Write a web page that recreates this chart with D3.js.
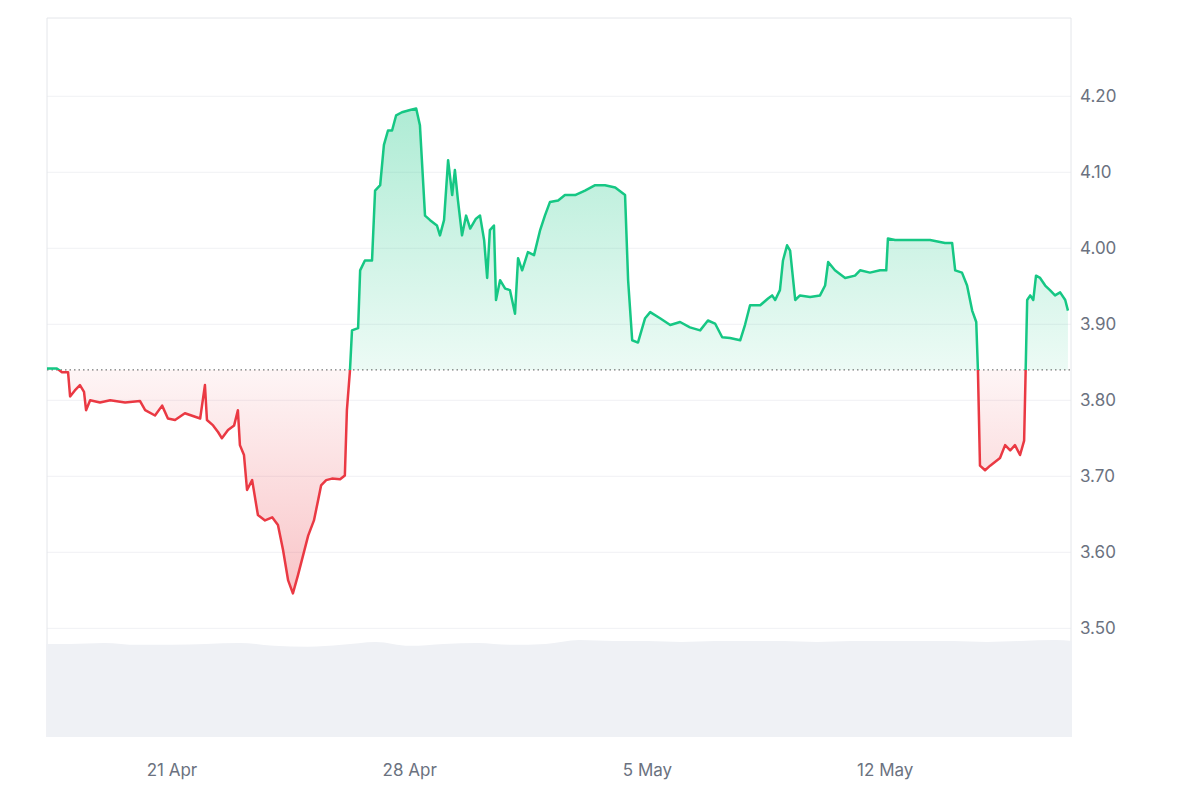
<!DOCTYPE html>
<html><head><meta charset="utf-8">
<script src="https://cdn.jsdelivr.net/npm/d3@7"></script>
<style>body{margin:0;background:#fff;font-family:Inter,"Open Sans",sans-serif}</style>
</head><body><svg id="c" width="1200" height="800"></svg>
<script>
// day offsets from 17 Apr 00:00 UTC
const days = [0.32,0.61,0.76,0.94,1.00,1.14,1.29,1.41,1.47,1.59,1.88,2.18,2.62,3.06,3.21,3.50,3.71,3.88,4.09,4.38,4.83,4.97,5.03,5.21,5.36,5.47,5.65,5.83,5.94,6.00,6.12,6.21,6.36,6.53,6.74,6.95,7.12,7.27,7.42,7.56,7.71,7.86,8.01,8.18,8.30,8.39,8.54,8.71,8.95,9.09,9.15,9.24,9.30,9.48,9.54,9.68,9.89,9.98,10.13,10.24,10.36,10.48,10.60,10.77,11.01,11.19,11.30,11.45,11.60,11.80,11.89,12.01,12.13,12.25,12.33,12.42,12.54,12.66,12.78,12.95,13.07,13.19,13.28,13.36,13.48,13.54,13.66,13.81,13.95,14.10,14.19,14.31,14.48,14.66,14.84,14.98,15.13,15.37,15.57,15.87,16.16,16.46,16.75,17.05,17.34,17.43,17.55,17.72,17.93,18.08,18.37,18.67,18.96,19.25,19.55,19.78,19.99,20.20,20.43,20.73,20.87,21.02,21.32,21.55,21.67,21.76,21.90,21.99,22.11,22.20,22.35,22.49,22.79,23.08,23.23,23.32,23.52,23.82,24.11,24.26,24.55,24.85,25.03,25.08,25.29,25.59,25.88,26.32,26.76,26.97,27.06,27.26,27.41,27.56,27.68,27.73,27.79,27.94,28.09,28.38,28.53,28.68,28.82,28.97,29.09,29.18,29.27,29.36,29.44,29.56,29.71,29.85,30.00,30.15,30.30,30.38];
const prices = [3.842,3.842,3.837,3.837,3.805,3.813,3.820,3.811,3.787,3.800,3.797,3.800,3.797,3.799,3.787,3.780,3.793,3.776,3.774,3.783,3.776,3.820,3.774,3.767,3.758,3.750,3.761,3.767,3.787,3.741,3.728,3.682,3.695,3.649,3.642,3.646,3.636,3.603,3.563,3.546,3.570,3.596,3.622,3.642,3.668,3.688,3.695,3.697,3.696,3.701,3.787,3.839,3.892,3.895,3.971,3.984,3.984,4.076,4.083,4.136,4.155,4.155,4.175,4.179,4.182,4.184,4.162,4.043,4.037,4.030,4.017,4.037,4.116,4.070,4.103,4.063,4.017,4.043,4.026,4.039,4.043,4.011,3.961,4.024,4.030,3.932,3.958,3.947,3.945,3.914,3.987,3.971,3.995,3.991,4.024,4.043,4.061,4.063,4.070,4.070,4.076,4.083,4.083,4.080,4.070,3.958,3.879,3.876,3.908,3.916,3.908,3.899,3.903,3.896,3.892,3.905,3.901,3.883,3.882,3.879,3.899,3.925,3.925,3.934,3.938,3.932,3.945,3.984,4.004,3.997,3.932,3.938,3.936,3.938,3.951,3.982,3.971,3.961,3.964,3.971,3.968,3.971,3.971,4.013,4.011,4.011,4.011,4.011,4.007,4.007,3.971,3.968,3.951,3.918,3.903,3.839,3.714,3.708,3.714,3.724,3.741,3.734,3.741,3.728,3.747,3.932,3.938,3.932,3.964,3.961,3.951,3.945,3.938,3.942,3.932,3.918];
const baseline = 3.84;
const volDays = [0.3,1,2,3,4,5,6,7,8,9,10,11,12,13,14,15,16,17,18,19,20,21,22,23,24,25,26,27,28,29,30,30.5];
const volumes = [96,96,97,95,95,96,97,94,93,95,98,94,96,97,95,96,100,99,99,98,99,99,99,98,99,99,99,99,98,99,100,99];
const yTicks = [3.5,3.6,3.7,3.8,3.9,4.0,4.1,4.2];
const xTickDays = [4,11,18,25];
const xTickLabels = ["21 Apr","28 Apr","5 May","12 May"];

const t0 = Date.UTC(2024,3,17);
const toDate = d => new Date(t0 + d*86400000);
const data = days.map((d,i)=>({t:toDate(d),v:prices[i]}));
const vol = volDays.map((d,i)=>({t:toDate(d),v:volumes[i]}));

const L=47,R=1071,T=18,B=737;
const svg = d3.select("#c");
const x = d3.scaleUtc().domain([toDate(0.32),toDate(30.47)]).range([L,R]);
const y = d3.scaleLinear().domain([3.357,4.303]).range([B,T]);
const yv = d3.scaleLinear().domain([0,100]).range([B,640]);

const defs = svg.append("defs");
const gG = defs.append("linearGradient").attr("id","gG").attr("x1",0).attr("x2",0).attr("y1",0).attr("y2",1).attr("gradientUnits","userSpaceOnUse").attr("y1",y(4.19)).attr("y2",y(baseline));
gG.append("stop").attr("offset",0).attr("stop-color","#16c784").attr("stop-opacity",0.35);
gG.append("stop").attr("offset",1).attr("stop-color","#16c784").attr("stop-opacity",0.08);
const gR = defs.append("linearGradient").attr("id","gR").attr("x1",0).attr("x2",0).attr("gradientUnits","userSpaceOnUse").attr("y1",y(baseline)).attr("y2",y(3.54));
gR.append("stop").attr("offset",0).attr("stop-color","#ea3943").attr("stop-opacity",0.05);
gR.append("stop").attr("offset",1).attr("stop-color","#ea3943").attr("stop-opacity",0.3);
defs.append("clipPath").attr("id","cA").append("rect").attr("x",L).attr("y",T).attr("width",R-L).attr("height",y(baseline)-T);
defs.append("clipPath").attr("id","cB").append("rect").attr("x",L).attr("y",y(baseline)).attr("width",R-L).attr("height",B-y(baseline));

// grid
svg.append("g").selectAll("line").data(yTicks).join("line")
 .attr("x1",L).attr("x2",R).attr("y1",d=>y(d)).attr("y2",d=>y(d)).attr("stroke","#f0f1f4");
svg.append("line").attr("x1",L).attr("x2",R).attr("y1",T).attr("y2",T).attr("stroke","#e4e6ea");
svg.append("line").attr("x1",L).attr("x2",L).attr("y1",T).attr("y2",B).attr("stroke","#e4e6ea");
svg.append("line").attr("x1",R).attr("x2",R).attr("y1",T).attr("y2",B).attr("stroke","#e4e6ea");

// volume
svg.append("path").datum(vol).attr("fill","#eff1f5")
 .attr("d",d3.area().x(d=>x(d.t)).y0(B).y1(d=>yv(d.v)).curve(d3.curveMonotoneX));

const area = d3.area().x(d=>x(d.t)).y0(y(baseline)).y1(d=>y(d.v)).curve(d3.curveStepAfter);
const line = d3.line().x(d=>x(d.t)).y(d=>y(d.v)).curve(d3.curveLinear);
const areaL = d3.area().x(d=>x(d.t)).y0(y(baseline)).y1(d=>y(d.v));
svg.append("path").datum(data).attr("clip-path","url(#cA)").attr("fill","url(#gG)").attr("d",areaL);
svg.append("path").datum(data).attr("clip-path","url(#cB)").attr("fill","url(#gR)").attr("d",areaL);
svg.append("line").attr("x1",L).attr("x2",R).attr("y1",y(baseline)).attr("y2",y(baseline))
 .attr("stroke","#555").attr("stroke-dasharray","1.5,3").attr("stroke-width",1);
svg.append("path").datum(data).attr("clip-path","url(#cA)").attr("fill","none").attr("stroke","#16c784").attr("stroke-width",2.5).attr("stroke-linejoin","round").attr("d",line);
svg.append("path").datum(data).attr("clip-path","url(#cB)").attr("fill","none").attr("stroke","#ea3943").attr("stroke-width",2.5).attr("stroke-linejoin","round").attr("d",line);

// axes
svg.append("g").selectAll("text").data(yTicks).join("text")
 .attr("x",1080).attr("y",d=>y(d)).attr("dy","0.35em").attr("font-size",17).attr("fill","#6b7280")
 .text(d=>d3.format(".2f")(d));
svg.append("g").selectAll("text").data(xTickDays).join("text")
 .attr("x",d=>x(toDate(d))).attr("y",776).attr("text-anchor","middle").attr("font-size",17).attr("fill","#6b7280")
 .text((d,i)=>xTickLabels[i]);
</script></body></html>
